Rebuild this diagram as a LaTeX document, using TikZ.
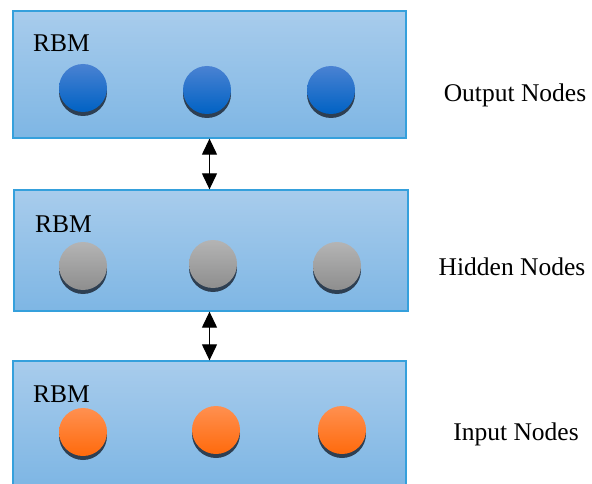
\documentclass[tikz,border=0pt]{standalone}
\usepackage{fontspec}
\setmainfont{Liberation Serif}
\usepackage{tikz}
\usetikzlibrary{shapes.geometric, arrows.meta, shadows}

\definecolor{boxtop}{HTML}{A8CCEC}
\definecolor{boxbot}{HTML}{7EB6E4}
\definecolor{boxline}{HTML}{35A0DC}
\definecolor{shade}{HTML}{2E3F52}
\definecolor{outtop}{HTML}{4A82D2}
\definecolor{outbot}{HTML}{0062C4}
\definecolor{hidtop}{HTML}{B4B4B4}
\definecolor{hidbot}{HTML}{8E8E8E}
\definecolor{intop}{HTML}{FF9050}
\definecolor{inbot}{HTML}{FF6A0C}

\tikzstyle{layer} = [rectangle, minimum width=393pt, minimum height=127pt, draw=boxline, line width=1.3pt, top color=boxtop, bottom color=boxbot, inner sep=0pt]
\tikzstyle{unit} = [circle, minimum size=48pt, inner sep=0pt, drop shadow={shadow xshift=0pt, shadow yshift=-4pt, fill=shade, opacity=1}]
\tikzstyle{outunit} = [unit, top color=outtop, bottom color=outbot]
\tikzstyle{hidunit} = [unit, top color=hidtop, bottom color=hidbot]
\tikzstyle{inunit} = [unit, top color=intop, bottom color=inbot]
\tikzstyle{txt} = [font=\fontsize{25.5}{30}\selectfont, inner sep=0pt, anchor=base]
\tikzstyle{arrow} = [line width=1.2pt, {Triangle[width=15pt,length=16pt]}-{Triangle[width=15pt,length=16pt]}]

\begin{document}
\begin{tikzpicture}[x=1pt, y=-1pt]
			\clip (0,0) rectangle (592,484);
			\fill[white] (0,0) rectangle (592,484);
			
			\node[layer] (out) at (209.5,74.5) {};
			\node[layer, minimum width=394pt, minimum height=121pt] (hid) at (211,250.5) {};
			\node[layer, minimum height=125pt] (inp) at (209.5,423.5) {};
			
			\node[txt, anchor=base west] (rbm1) at (33,52) {RBM};
			\node[txt, anchor=base west] (rbm2) at (35,232) {RBM};
			\node[txt, anchor=base west] (rbm3) at (33,402) {RBM};
			
			\node[outunit] (o1) at (83,88) {};
			\node[outunit] (o2) at (207,90) {};
			\node[outunit] (o3) at (331,90) {};
			
			\node[hidunit] (h1) at (83,266) {};
			\node[hidunit] (h2) at (213,264) {};
			\node[hidunit] (h3) at (337,266) {};
			
			\node[inunit] (i1) at (83,432) {};
			\node[inunit] (i2) at (216,430) {};
			\node[inunit] (i3) at (342,430) {};
			
			\node[txt] (lout) at (515,102) {Output Nodes};
			\node[txt] (lhid) at (512,275) {Hidden Nodes};
			\node[txt] (linp) at (516,440) {Input Nodes};
			
			\draw [arrow] (out.south) -- (out.south |- hid.north);
			\draw [arrow] (inp.north |- hid.south) -- (inp.north);
			
		\end{tikzpicture}
\end{document}
